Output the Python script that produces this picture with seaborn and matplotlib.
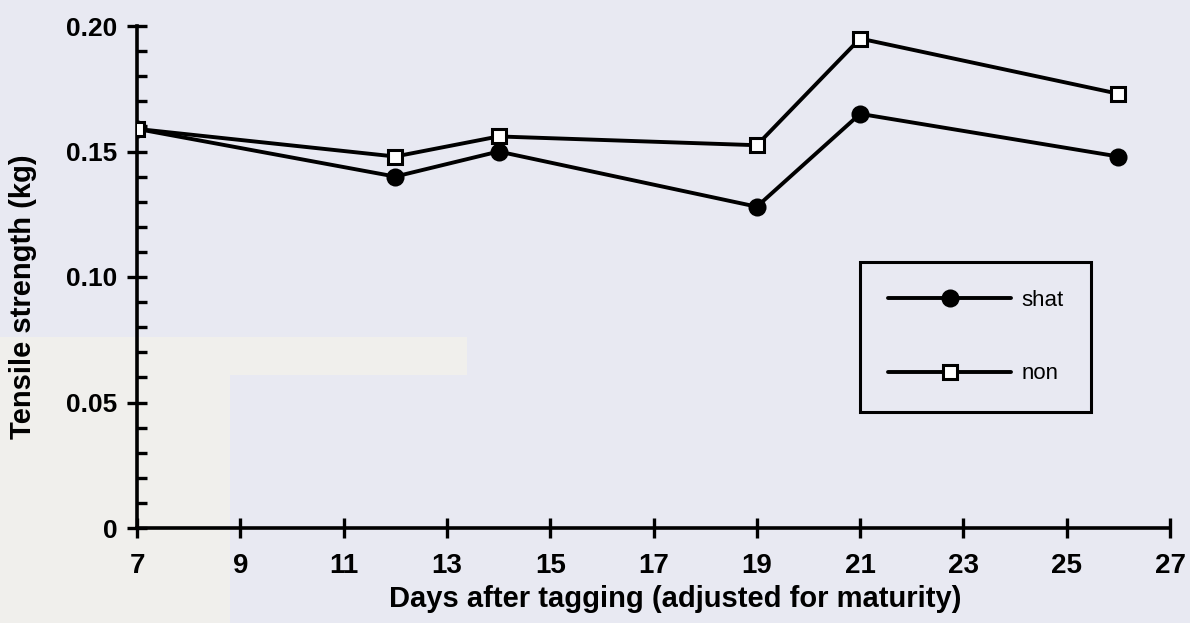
import matplotlib
matplotlib.use("Agg")
import matplotlib.pyplot as plt
import seaborn as sns
import pandas as pd
from matplotlib.patches import Rectangle
from matplotlib.ticker import MultipleLocator

# ---- data ----
days = [7, 12, 14, 19, 21, 26]
shat = [0.159, 0.140, 0.150, 0.128, 0.165, 0.148]
non = [0.159, 0.148, 0.156, 0.1525, 0.195, 0.173]
series_labels = ["shat", "non"]
x_ticks = [7, 9, 11, 13, 15, 17, 19, 21, 23, 25, 27]
y_ticks = [0, 0.05, 0.10, 0.15, 0.20]
y_tick_labels = ["0", "0.05", "0.10", "0.15", "0.20"]
x_label = "Days after tagging (adjusted for maturity)"
y_label = "Tensile strength (kg)"

bg = "#e8e9f2"
light = "#f0efec"

sns.set_style("white")
plt.rcParams["font.family"] = ["Liberation Sans", "DejaVu Sans"]
for k in ["text.color", "axes.labelcolor", "xtick.color", "ytick.color"]:
    plt.rcParams[k] = "black"

fig = plt.figure(figsize=(11.9, 6.23), dpi=100, facecolor=bg)
W, H = 1190, 623
# scan artefact lighter patches (figure coords)
fig.patches.append(Rectangle((0, 1 - 375 / H), 467 / W, (375 - 337) / H,
                             transform=fig.transFigure, facecolor=light,
                             edgecolor="none", zorder=-10))
fig.patches.append(Rectangle((0, 0), 230 / W, 1 - 375 / H,
                             transform=fig.transFigure, facecolor=light,
                             edgecolor="none", zorder=-10))

ax = fig.add_axes([137 / W, 95 / H, (1170 - 137) / W, (528 - 26) / H])
ax.patch.set_alpha(0)

df = pd.DataFrame({"day": days, "shat": shat, "non": non})

sns.lineplot(data=df, x="day", y="shat", ax=ax, color="black", lw=2.8,
             marker="o", markersize=11.5, markerfacecolor="black",
             markeredgecolor="black", markeredgewidth=1.5,
             label=series_labels[0], zorder=3)
sns.lineplot(data=df, x="day", y="non", ax=ax, color="black", lw=2.8,
             marker="s", markersize=10.5, markerfacecolor="white",
             markeredgecolor="black", markeredgewidth=2.2,
             label=series_labels[1], zorder=4)

ax.set_xlim(7, 27)
ax.set_ylim(0, 0.20)
for s in ["top", "right"]:
    ax.spines[s].set_visible(False)
for s in ["left", "bottom"]:
    ax.spines[s].set_linewidth(2.6)
    ax.spines[s].set_color("black")

ax.set_xticks(x_ticks)
ax.set_xticklabels([str(t) for t in x_ticks])
ax.set_yticks(y_ticks)
ax.set_yticklabels(y_tick_labels)
ax.yaxis.set_minor_locator(MultipleLocator(0.01))

ax.tick_params(axis="y", which="major", direction="inout", length=14,
               width=2.4, pad=7, labelsize=19, left=True)
ax.tick_params(axis="y", which="minor", direction="in", length=7.5,
               width=2.4, left=True)
ax.tick_params(axis="x", which="major", direction="inout", length=14,
               width=2.4, pad=11, labelsize=20, bottom=True)
ax.tick_params(axis="x", which="minor", bottom=False)
for lab in ax.get_xticklabels() + ax.get_yticklabels():
    lab.set_fontweight("bold")

ax.set_xlabel(x_label, fontsize=21, fontweight="bold")
ax.set_ylabel(y_label, fontsize=21, fontweight="bold")
ax.xaxis.set_label_coords(0.521, -0.113)
ax.yaxis.set_label_coords(-0.097, 0.46)

leg = ax.legend(loc="upper left", bbox_to_anchor=(0.700, 0.530),
                borderaxespad=0, frameon=True, fancybox=False,
                fontsize=16, handlelength=5.55, handletextpad=0.45,
                labelspacing=2.37, borderpad=1.25, numpoints=1)
frame = leg.get_frame()
frame.set_edgecolor("black")
frame.set_linewidth(2.2)
frame.set_facecolor(bg)
frame.set_alpha(1)

fig.savefig("out.png", dpi=100, facecolor=bg)
